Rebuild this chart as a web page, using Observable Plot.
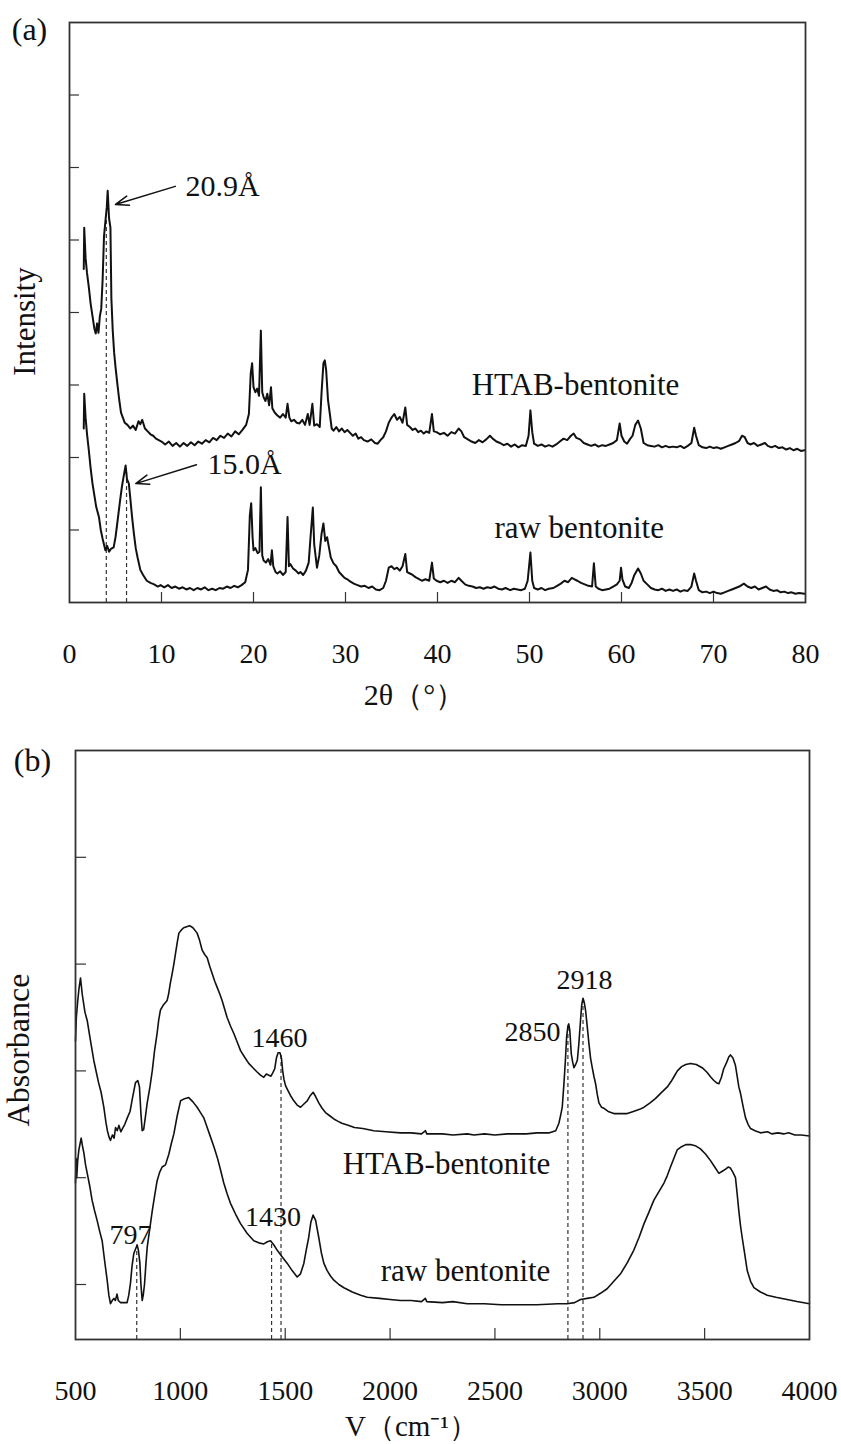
<!DOCTYPE html>
<html><head><meta charset="utf-8">
<script src="https://cdn.jsdelivr.net/npm/d3@7"></script>
<script src="https://cdn.jsdelivr.net/npm/@observablehq/plot@0.6"></script>
<style>
body{margin:0;background:#fff;}
#wrap{width:841px;height:1444px;overflow:hidden;background:#fff;}
#wrap svg{display:block;}
</style></head><body><div id="wrap"></div>
<script>
// ---------- Panel (a): XRD ----------
const xrdHTAB = [[1.55,4.6],[1.6,5.17],[1.75,4.75],[1.9,4.55],[2.1,4.35],[2.3,4.12],[2.5,3.95],[2.7,3.78],[2.85,3.71],[3.0,3.85],[3.15,3.72],[3.3,3.95],[3.45,4.05],[3.6,4.45],[3.75,5.05],[3.9,5.25],[4.05,5.45],[4.15,5.68],[4.3,5.3],[4.45,5.17],[4.55,4.2],[4.7,3.75],[4.85,3.45],[5.0,3.25],[5.2,3.02],[5.4,2.8],[5.6,2.62],[5.8,2.55],[6.0,2.48],[6.3,2.45],[6.6,2.40],[6.9,2.44],[7.2,2.38],[7.5,2.50],[7.7,2.46],[7.9,2.52],[8.2,2.40],[8.5,2.36],[8.8,2.32],[9.1,2.30],[9.4,2.26],[9.7,2.24],[10.0,2.22],[10.4,2.18],[10.8,2.22],[11.2,2.16],[11.6,2.20],[12.0,2.15],[12.4,2.20],[12.8,2.16],[13.2,2.21],[13.6,2.17],[14.0,2.22],[14.4,2.19],[14.8,2.24],[15.2,2.21],[15.6,2.27],[16.0,2.24],[16.4,2.30],[16.8,2.27],[17.2,2.33],[17.6,2.29],[18.0,2.36],[18.4,2.32],[18.8,2.38],[19.2,2.45],[19.5,2.6],[19.7,3.16],[19.85,3.3],[20.0,2.97],[20.2,2.9],[20.4,2.95],[20.6,2.85],[20.8,3.75],[20.95,2.9],[21.1,2.83],[21.3,2.78],[21.5,2.88],[21.7,2.72],[21.9,2.97],[22.05,2.68],[22.3,2.62],[22.6,2.58],[22.9,2.55],[23.2,2.6],[23.5,2.55],[23.7,2.74],[23.9,2.55],[24.1,2.5],[24.4,2.52],[24.7,2.48],[25.0,2.47],[25.3,2.52],[25.6,2.45],[25.9,2.6],[26.1,2.45],[26.4,2.74],[26.6,2.44],[26.9,2.46],[27.2,2.42],[27.4,2.9],[27.6,3.3],[27.75,3.34],[27.9,3.2],[28.1,2.79],[28.3,2.6],[28.5,2.4],[28.7,2.37],[29.0,2.42],[29.3,2.36],[29.6,2.4],[29.9,2.35],[30.2,2.38],[30.5,2.34],[30.8,2.3],[31.1,2.33],[31.4,2.26],[31.7,2.28],[32.0,2.24],[32.4,2.22],[32.8,2.25],[33.2,2.2],[33.5,2.19],[33.8,2.24],[34.1,2.28],[34.4,2.36],[34.7,2.48],[35.0,2.55],[35.3,2.6],[35.6,2.52],[35.9,2.56],[36.2,2.48],[36.5,2.69],[36.7,2.45],[37.0,2.42],[37.3,2.38],[37.6,2.4],[37.9,2.35],[38.2,2.37],[38.5,2.33],[38.8,2.36],[39.1,2.34],[39.4,2.6],[39.6,2.36],[39.9,2.35],[40.3,2.32],[40.7,2.34],[41.1,2.3],[41.5,2.35],[41.9,2.33],[42.3,2.4],[42.6,2.36],[42.9,2.28],[43.3,2.25],[43.7,2.22],[44.1,2.2],[44.5,2.24],[44.9,2.21],[45.3,2.25],[45.7,2.3],[46.0,2.26],[46.4,2.22],[46.8,2.2],[47.2,2.17],[47.6,2.19],[48.0,2.15],[48.4,2.18],[48.8,2.14],[49.2,2.17],[49.6,2.16],[49.9,2.3],[50.1,2.65],[50.3,2.35],[50.5,2.19],[50.9,2.16],[51.3,2.18],[51.7,2.15],[52.1,2.17],[52.5,2.15],[52.9,2.18],[53.3,2.22],[53.7,2.26],[54.1,2.24],[54.5,2.3],[54.8,2.33],[55.1,2.27],[55.5,2.25],[55.9,2.2],[56.3,2.18],[56.7,2.16],[57.1,2.18],[57.5,2.15],[57.9,2.17],[58.3,2.16],[58.7,2.18],[59.1,2.2],[59.5,2.24],[59.8,2.47],[60.0,2.3],[60.3,2.22],[60.6,2.19],[60.9,2.25],[61.2,2.3],[61.5,2.45],[61.8,2.51],[62.1,2.4],[62.4,2.2],[62.8,2.17],[63.2,2.16],[63.6,2.15],[64.0,2.17],[64.4,2.14],[64.8,2.16],[65.2,2.14],[65.6,2.15],[66.0,2.14],[66.4,2.16],[66.8,2.13],[67.2,2.16],[67.6,2.2],[67.9,2.41],[68.1,2.3],[68.4,2.17],[68.8,2.14],[69.2,2.13],[69.6,2.15],[70.0,2.13],[70.4,2.14],[70.8,2.12],[71.2,2.14],[71.6,2.16],[72.0,2.18],[72.4,2.2],[72.8,2.23],[73.1,2.3],[73.4,2.28],[73.7,2.2],[74.0,2.18],[74.4,2.2],[74.8,2.16],[75.2,2.18],[75.6,2.2],[75.9,2.16],[76.3,2.14],[76.7,2.16],[77.1,2.13],[77.5,2.14],[77.9,2.11],[78.3,2.13],[78.7,2.1],[79.1,2.12],[79.5,2.09],[79.9,2.1]];

const xrdRaw = [[1.55,2.4],[1.6,2.88],[1.75,2.55],[1.9,2.33],[2.1,2.1],[2.3,1.85],[2.5,1.64],[2.7,1.48],[2.9,1.32],[3.2,1.18],[3.4,1.0],[3.6,0.88],[3.9,0.72],[4.1,0.78],[4.3,0.7],[4.5,0.74],[4.8,0.76],[5.0,0.9],[5.2,1.1],[5.5,1.41],[5.7,1.6],[5.9,1.75],[6.1,1.89],[6.25,1.7],[6.45,1.64],[6.6,1.45],[6.8,1.18],[7.0,0.95],[7.2,0.75],[7.4,0.62],[7.7,0.45],[8.0,0.38],[8.4,0.3],[8.8,0.27],[9.2,0.25],[9.6,0.22],[9.9,0.24],[10.3,0.21],[10.7,0.24],[11.1,0.2],[11.5,0.22],[11.9,0.19],[12.3,0.21],[12.7,0.18],[13.1,0.2],[13.5,0.17],[13.9,0.2],[14.3,0.18],[14.7,0.21],[15.1,0.17],[15.5,0.19],[15.9,0.17],[16.3,0.2],[16.7,0.19],[17.1,0.22],[17.5,0.2],[17.9,0.23],[18.3,0.21],[18.7,0.24],[19.1,0.28],[19.4,0.45],[19.6,1.2],[19.75,1.37],[19.9,0.9],[20.0,0.72],[20.2,0.75],[20.45,0.68],[20.65,0.7],[20.8,1.59],[20.95,0.65],[21.1,0.58],[21.35,0.55],[21.6,0.6],[21.85,0.52],[22.0,0.72],[22.15,0.5],[22.4,0.42],[22.6,0.4],[22.9,0.43],[23.2,0.38],[23.5,0.42],[23.7,1.18],[23.85,0.5],[24.0,0.53],[24.3,0.47],[24.6,0.44],[24.9,0.4],[25.1,0.42],[25.4,0.38],[25.7,0.44],[26.0,0.55],[26.2,0.9],[26.45,1.31],[26.6,0.8],[26.9,0.48],[27.15,0.65],[27.4,0.95],[27.6,1.09],[27.8,0.85],[28.0,0.9],[28.2,0.76],[28.4,0.62],[28.7,0.54],[29.0,0.5],[29.3,0.42],[29.6,0.38],[29.9,0.34],[30.2,0.32],[30.5,0.29],[30.9,0.26],[31.3,0.24],[31.7,0.22],[32.1,0.23],[32.5,0.2],[32.9,0.22],[33.3,0.18],[33.7,0.17],[34.1,0.2],[34.4,0.3],[34.7,0.48],[35.0,0.5],[35.3,0.46],[35.6,0.48],[35.9,0.44],[36.2,0.5],[36.5,0.67],[36.7,0.42],[37.0,0.4],[37.3,0.38],[37.6,0.35],[37.9,0.33],[38.3,0.3],[38.7,0.32],[39.1,0.3],[39.4,0.55],[39.6,0.33],[39.9,0.3],[40.3,0.28],[40.7,0.3],[41.1,0.27],[41.5,0.3],[41.9,0.28],[42.3,0.34],[42.6,0.3],[43.0,0.25],[43.4,0.23],[43.8,0.22],[44.2,0.2],[44.6,0.21],[45.0,0.19],[45.4,0.21],[45.8,0.2],[46.2,0.22],[46.6,0.19],[47.0,0.18],[47.4,0.2],[47.9,0.17],[48.3,0.19],[48.7,0.18],[49.1,0.17],[49.5,0.19],[49.8,0.3],[50.1,0.69],[50.3,0.3],[50.5,0.2],[50.9,0.18],[51.3,0.2],[51.7,0.17],[52.1,0.19],[52.6,0.2],[53.0,0.23],[53.4,0.26],[53.8,0.3],[54.2,0.28],[54.6,0.34],[54.9,0.32],[55.2,0.3],[55.6,0.27],[56.0,0.25],[56.4,0.23],[56.8,0.22],[57.0,0.54],[57.2,0.22],[57.5,0.19],[57.9,0.17],[58.3,0.18],[58.7,0.19],[59.1,0.22],[59.5,0.25],[59.8,0.3],[59.95,0.48],[60.1,0.32],[60.4,0.22],[60.8,0.2],[61.1,0.27],[61.4,0.38],[61.8,0.47],[62.1,0.4],[62.4,0.3],[62.8,0.25],[63.2,0.2],[63.6,0.18],[64.0,0.17],[64.4,0.19],[64.8,0.16],[65.2,0.18],[65.6,0.16],[66.0,0.18],[66.4,0.15],[66.8,0.17],[67.2,0.16],[67.6,0.22],[67.9,0.4],[68.1,0.3],[68.4,0.17],[68.8,0.14],[69.2,0.15],[69.6,0.13],[70.0,0.15],[70.4,0.13],[70.8,0.12],[71.2,0.14],[71.6,0.16],[72.0,0.18],[72.4,0.2],[72.8,0.22],[73.3,0.26],[73.7,0.22],[74.1,0.2],[74.5,0.22],[74.9,0.18],[75.3,0.2],[75.7,0.22],[76.1,0.18],[76.5,0.16],[76.9,0.17],[77.3,0.14],[77.7,0.15],[78.1,0.13],[78.5,0.14],[78.9,0.12],[79.3,0.13],[79.9,0.12]];

const xrdXTicks = [0,10,20,30,40,50,60,70,80];
const xrdYTicks = [1,2,3,4,5,6,7];
const xrdDashX = [4.0, 6.2];
const xrdDashTop = [5.3, 1.8];
const xrdSeriesLabels = ["HTAB-bentonite", "raw bentonite"];
const xrdSeriesLabelX = [55.0, 55.4];
const xrdSeriesLabelY = [3.0, 1.03];
const xrdPeakLabels = ["20.9Å", "15.0Å"];
const xrdArrowFromX = [11.5, 13.8];
const xrdArrowFromY = [5.74, 1.90];
const xrdArrowToX = [5.0, 7.2];
const xrdArrowToY = [5.49, 1.64];
const xrdPeakLabelX = [12.6, 15.0];

// ---------- Panel (b): FTIR ----------
const ftirHTAB = [[500,2.28],[504,2.5],[510,2.64],[516,2.76],[524,2.87],[532,2.72],[545,2.55],[556,2.47],[570,2.3],[587,2.10],[600,1.98],[610,1.89],[622,1.8],[635,1.66],[645,1.52],[652,1.44],[660,1.38],[667,1.35],[676,1.4],[684,1.37],[691,1.47],[699,1.44],[707,1.49],[716,1.43],[724,1.46],[735,1.5],[747,1.56],[760,1.62],[772,1.75],[786,1.89],[797,1.91],[805,1.85],[812,1.6],[818,1.44],[825,1.45],[832,1.55],[842,1.70],[855,1.85],[866,2.0],[877,2.19],[889,2.35],[897,2.48],[905,2.57],[920,2.62],[937,2.66],[944,2.72],[952,2.82],[961,2.91],[969,3.0],[977,3.1],[985,3.2],[993,3.29],[1005,3.32],[1016,3.34],[1030,3.35],[1044,3.36],[1060,3.34],[1080,3.29],[1092,3.22],[1104,3.13],[1116,3.09],[1128,3.06],[1140,2.98],[1152,2.91],[1164,2.84],[1176,2.78],[1188,2.72],[1199,2.66],[1211,2.58],[1223,2.50],[1239,2.42],[1255,2.35],[1271,2.27],[1287,2.19],[1306,2.13],[1326,2.07],[1346,2.03],[1366,1.99],[1382,1.96],[1398,1.94],[1410,1.97],[1422,1.96],[1432,1.95],[1440,1.98],[1450,2.02],[1458,2.12],[1466,2.17],[1475,2.17],[1482,2.12],[1488,2.0],[1494,1.92],[1502,1.86],[1512,1.82],[1525,1.77],[1541,1.72],[1557,1.68],[1573,1.66],[1589,1.69],[1605,1.72],[1620,1.77],[1633,1.80],[1645,1.76],[1660,1.70],[1676,1.65],[1692,1.61],[1712,1.58],[1732,1.55],[1750,1.53],[1770,1.51],[1800,1.49],[1830,1.47],[1870,1.46],[1922,1.44],[1980,1.43],[2050,1.42],[2100,1.42],[2150,1.41],[2169,1.44],[2175,1.41],[2250,1.41],[2300,1.40],[2368,1.41],[2400,1.40],[2450,1.41],[2500,1.40],[2559,1.41],[2600,1.41],[2650,1.41],[2700,1.42],[2760,1.42],[2790,1.44],[2805,1.51],[2815,1.6],[2821,1.66],[2829,1.88],[2836,2.1],[2842,2.32],[2848,2.42],[2852,2.44],[2857,2.38],[2864,2.16],[2871,2.08],[2877,2.03],[2885,2.06],[2893,2.10],[2900,2.25],[2908,2.47],[2914,2.62],[2920,2.68],[2926,2.64],[2932,2.57],[2940,2.42],[2948,2.26],[2956,2.12],[2964,2.03],[2972,1.95],[2980,1.88],[2988,1.78],[2996,1.70],[3008,1.66],[3020,1.65],[3040,1.62],[3067,1.60],[3100,1.60],[3131,1.60],[3160,1.62],[3190,1.64],[3211,1.66],[3240,1.70],[3265,1.74],[3290,1.79],[3306,1.82],[3322,1.85],[3340,1.90],[3355,1.95],[3370,2.0],[3390,2.04],[3410,2.06],[3433,2.07],[3460,2.06],[3488,2.03],[3510,1.99],[3530,1.94],[3544,1.91],[3556,1.89],[3568,1.88],[3580,1.94],[3591,2.02],[3605,2.08],[3615,2.13],[3623,2.15],[3635,2.12],[3647,2.05],[3655,1.95],[3663,1.85],[3671,1.79],[3683,1.67],[3695,1.56],[3707,1.50],[3719,1.46],[3740,1.44],[3766,1.42],[3800,1.43],[3820,1.41],[3850,1.42],[3877,1.41],[3900,1.42],[3930,1.40],[3960,1.40],[4000,1.39]];

const ftirRaw = [[500,0.95],[503,1.18],[506,1.0],[510,1.15],[516,1.26],[522,1.32],[527,1.37],[533,1.3],[540,1.23],[548,1.12],[556,1.04],[568,0.92],[579,0.79],[591,0.69],[603,0.60],[615,0.50],[627,0.41],[639,0.22],[651,0.04],[659,-0.1],[667,-0.18],[675,-0.15],[683,-0.13],[690,-0.15],[698,-0.09],[704,-0.15],[715,-0.17],[730,-0.17],[746,-0.17],[754,-0.1],[762,0.01],[770,0.18],[778,0.29],[786,0.33],[794,0.37],[800,0.32],[807,0.2],[812,0.0],[818,-0.15],[823,-0.1],[829,0.0],[836,0.2],[842,0.35],[854,0.52],[866,0.69],[878,0.84],[889,0.97],[901,1.05],[913,1.10],[929,1.12],[945,1.22],[957,1.32],[969,1.41],[985,1.58],[1001,1.72],[1020,1.74],[1040,1.75],[1060,1.71],[1080,1.66],[1096,1.61],[1112,1.56],[1128,1.47],[1144,1.38],[1160,1.29],[1176,1.19],[1192,1.07],[1207,0.95],[1223,0.85],[1239,0.76],[1263,0.66],[1287,0.57],[1318,0.48],[1350,0.41],[1374,0.39],[1398,0.38],[1415,0.40],[1430,0.41],[1446,0.37],[1462,0.32],[1485,0.26],[1509,0.20],[1533,0.13],[1557,0.07],[1573,0.1],[1589,0.2],[1600,0.32],[1612,0.44],[1622,0.58],[1633,0.65],[1645,0.6],[1660,0.44],[1672,0.3],[1684,0.2],[1700,0.13],[1716,0.08],[1732,0.04],[1756,0.0],[1780,-0.03],[1820,-0.07],[1860,-0.1],[1891,-0.12],[1950,-0.13],[2000,-0.14],[2050,-0.15],[2100,-0.15],[2150,-0.16],[2168,-0.13],[2175,-0.16],[2250,-0.17],[2300,-0.16],[2368,-0.18],[2450,-0.18],[2530,-0.19],[2606,-0.19],[2700,-0.19],[2800,-0.18],[2844,-0.18],[2880,-0.17],[2908,-0.14],[2940,-0.13],[2972,-0.12],[3005,-0.08],[3035,-0.04],[3067,0.03],[3099,0.10],[3130,0.2],[3162,0.32],[3187,0.44],[3211,0.57],[3235,0.68],[3258,0.79],[3282,0.87],[3306,0.95],[3322,1.02],[3337,1.10],[3353,1.18],[3369,1.26],[3390,1.29],[3410,1.31],[3433,1.31],[3455,1.30],[3480,1.27],[3505,1.22],[3528,1.16],[3548,1.10],[3568,1.04],[3584,1.06],[3600,1.08],[3612,1.10],[3623,1.09],[3635,1.05],[3647,1.0],[3655,0.85],[3663,0.69],[3671,0.55],[3679,0.44],[3690,0.3],[3703,0.13],[3719,0.03],[3735,-0.03],[3766,-0.07],[3798,-0.1],[3840,-0.12],[3893,-0.14],[3940,-0.16],[4000,-0.18]];

const ftirXTicks = [500,1000,1500,2000,2500,3000,3500,4000];
const ftirYTicks = [0,1,2,3,4];
const ftirDashX = [792, 1435, 1480, 2848, 2920];
const ftirDashTop = [0.37, 0.40, 2.17, 2.43, 2.68];
const ftirPeakLabels = ["797", "1430", "1460", "2850", "2918"];
const ftirPeakLabelX = [762, 1442, 1473, 2679, 2927];
const ftirPeakLabelY = [0.46, 0.63, 2.31, 2.36, 2.85];
const ftirSeriesLabels = ["HTAB-bentonite", "raw bentonite"];
const ftirSeriesLabelX = [2269, 2360];
const ftirSeriesLabelY = [1.13, 0.13];

// ---------- rendering ----------
const FONT = "Liberation Serif";
const INK = "#111";
const idx = (arr) => arr.map((_, i) => i);
const T = (o) => ({fontFamily: FONT, fill: INK, ...o});

function panelA() {
  const mt = 22, mb = 118, ml = 69, mr = 36, H = 720, W = 841;
  const fh = H - mt - mb, fw = W - ml - mr;
  const inner = xrdXTicks.filter(t => t > 0 && t < 80);
  return Plot.plot({
    width: W, height: H, marginTop: mt, marginBottom: mb, marginLeft: ml, marginRight: mr,
    x: {domain: [0, 80], axis: null},
    y: {domain: [0, 8], axis: null},
    style: {fontFamily: FONT, background: "white", color: INK, overflow: "visible"},
    marks: [
      Plot.tickX(inner, {x: d => d, insetTop: fh - 10, stroke: "#333", strokeWidth: 1.2}),
      Plot.tickY(xrdYTicks, {y: d => d, insetRight: fw - 10, stroke: "#333", strokeWidth: 1.2}),
      Plot.text(xrdXTicks, T({x: d => d, text: d => String(d), frameAnchor: "bottom", textAnchor: "middle", lineAnchor: "middle", dy: 52, fontSize: 28})),
      Plot.ruleX(idx(xrdDashX), {x: i => xrdDashX[i], y1: 0, y2: i => xrdDashTop[i], stroke: "#333", strokeWidth: 1.2, strokeDasharray: "4,3"}),
      Plot.line(xrdRaw, {x: d => d[0], y: d => d[1], stroke: INK, strokeWidth: 2}),
      Plot.line(xrdHTAB, {x: d => d[0], y: d => d[1], stroke: INK, strokeWidth: 2}),
      Plot.arrow(idx(xrdArrowFromX), {x1: i => xrdArrowFromX[i], y1: i => xrdArrowFromY[i], x2: i => xrdArrowToX[i], y2: i => xrdArrowToY[i], stroke: INK, strokeWidth: 1.5, headLength: 14, headAngle: 40, bend: 0}),
      Plot.text(idx(xrdPeakLabels), T({x: i => xrdPeakLabelX[i], y: i => xrdArrowFromY[i], text: i => xrdPeakLabels[i], textAnchor: "start", lineAnchor: "middle", fontSize: 30})),
      Plot.text(idx(xrdSeriesLabels), T({x: i => xrdSeriesLabelX[i], y: i => xrdSeriesLabelY[i], text: i => xrdSeriesLabels[i], textAnchor: "middle", lineAnchor: "middle", fontSize: 31})),
      Plot.text(["2θ（°）"], T({frameAnchor: "bottom", textAnchor: "middle", lineAnchor: "middle", dx: -23, dy: 93, fontSize: 30})),
      Plot.text(["Intensity"], T({frameAnchor: "left", textAnchor: "middle", lineAnchor: "middle", rotate: -90, dx: -44, dy: 9, fontSize: 31})),
      Plot.text(["(a)"], T({frameAnchor: "top-left", textAnchor: "middle", lineAnchor: "middle", dx: -40, dy: 7, fontSize: 32})),
      Plot.frame({stroke: "#333", strokeWidth: 1.8})
    ]
  });
}

function panelB() {
  const mt = 30, mb = 105, ml = 75, mr = 32, H = 724, W = 841;
  const fh = H - mt - mb, fw = W - ml - mr;
  const inner = ftirXTicks.filter(t => t > 500 && t < 4000);
  return Plot.plot({
    width: W, height: H, marginTop: mt, marginBottom: mb, marginLeft: ml, marginRight: mr,
    x: {domain: [500, 4000], axis: null},
    y: {domain: [-0.515, 5], axis: null},
    style: {fontFamily: FONT, background: "white", color: INK, overflow: "visible"},
    marks: [
      Plot.tickX(inner, {x: d => d, insetTop: fh - 11, stroke: "#333", strokeWidth: 1.2}),
      Plot.tickY(ftirYTicks, {y: d => d, insetRight: fw - 11, stroke: "#333", strokeWidth: 1.2}),
      Plot.text(ftirXTicks, T({x: d => d, text: d => String(d), frameAnchor: "bottom", textAnchor: "middle", lineAnchor: "middle", dy: 52, fontSize: 28})),
      Plot.ruleX(idx(ftirDashX), {x: i => ftirDashX[i], y1: -0.515, y2: i => ftirDashTop[i], stroke: "#333", strokeWidth: 1.2, strokeDasharray: "4,3"}),
      Plot.line(ftirRaw, {x: d => d[0], y: d => d[1], stroke: INK, strokeWidth: 1.6}),
      Plot.line(ftirHTAB, {x: d => d[0], y: d => d[1], stroke: INK, strokeWidth: 1.6}),
      Plot.text(idx(ftirPeakLabels), T({x: i => ftirPeakLabelX[i], y: i => ftirPeakLabelY[i], text: i => ftirPeakLabels[i], textAnchor: "middle", lineAnchor: "middle", fontSize: 28})),
      Plot.text(idx(ftirSeriesLabels), T({x: i => ftirSeriesLabelX[i], y: i => ftirSeriesLabelY[i], text: i => ftirSeriesLabels[i], textAnchor: "middle", lineAnchor: "middle", fontSize: 31})),
      Plot.text(["V（cm⁻¹）"], T({frameAnchor: "bottom", textAnchor: "middle", lineAnchor: "middle", dx: -31, dy: 87, fontSize: 29})),
      Plot.text(["Absorbance"], T({frameAnchor: "left", textAnchor: "middle", lineAnchor: "middle", rotate: -90, dx: -57, dy: 5, fontSize: 32})),
      Plot.text(["(b)"], T({frameAnchor: "top-left", textAnchor: "middle", lineAnchor: "middle", dx: -43, dy: 10, fontSize: 32})),
      Plot.frame({stroke: "#333", strokeWidth: 1.8})
    ]
  });
}

const wrap = document.getElementById("wrap");
wrap.appendChild(panelA());
wrap.appendChild(panelB());
</script>
</body></html>
